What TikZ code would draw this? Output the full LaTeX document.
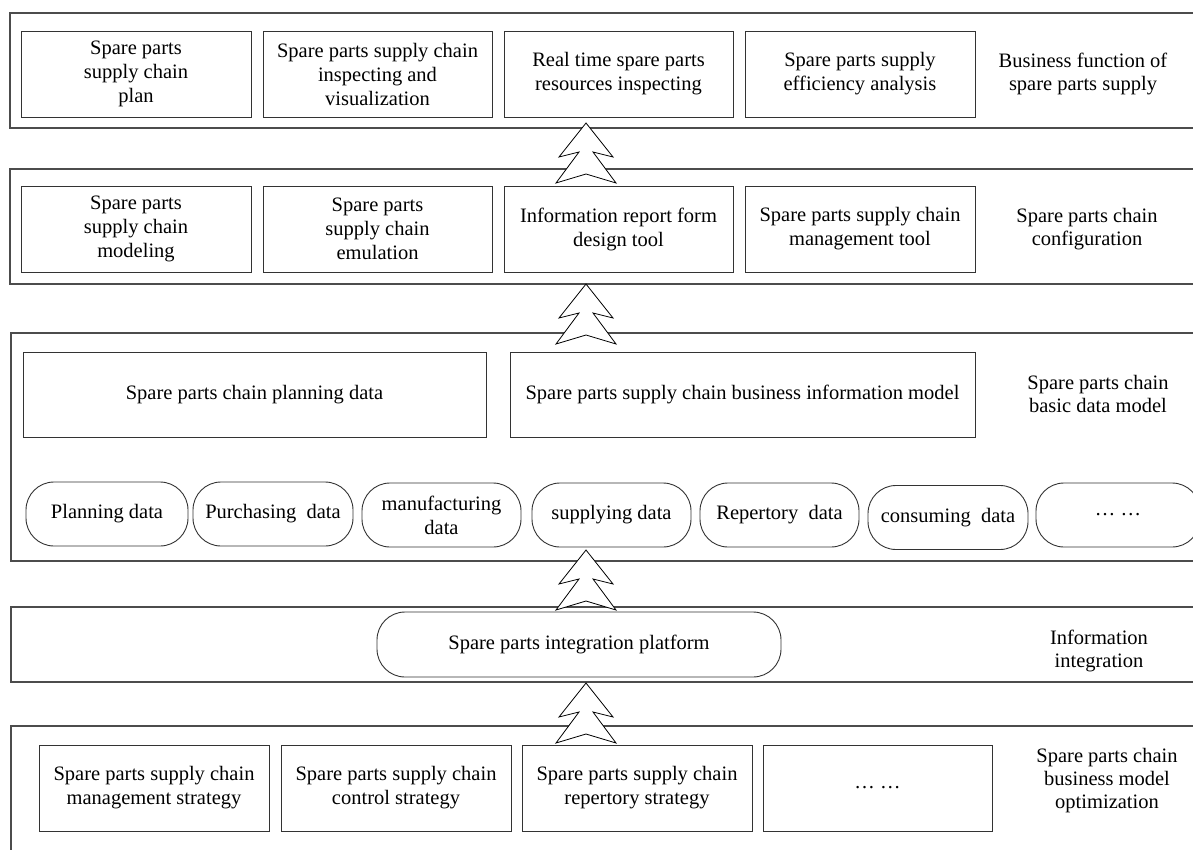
\documentclass[tikz,border=0pt]{standalone}
\usepackage{fontspec}
\setmainfont{Liberation Serif}
\begin{document}
\begin{tikzpicture}[x=1pt,y=-1pt,
  layer/.style={draw=black!70,line width=1.1pt},
  box/.style={draw=black!80,line width=0.9pt,rectangle,inner sep=0pt,align=center,
    font=\fontsize{20.5}{24}\selectfont},
  pill/.style={box,rounded corners=28pt},
  lbl/.style={inner sep=0pt,align=center,font=\fontsize{20.5}{23}\selectfont},
  dblarrow/.pic={\draw[black,line width=0.8pt,fill=white,line join=miter]
    (0,0) -- (27,34) -- (7,29) -- (30,60) -- (0,51) -- (-30,60) -- (-7,29) -- (-27,34) -- cycle;}
]
\useasboundingbox (0,0) rectangle (1193,849);
\clip (0,0) rectangle (1193,849);
\fill[white] (0,0) rectangle (1193,849);

% layers
\draw[layer] (10,13) rectangle (1220,128);
\draw[layer] (10,169) rectangle (1220,284);
\draw[layer] (11,333) rectangle (1220,561);
\draw[layer] (11,607) rectangle (1220,682);
\draw[layer] (11,726) rectangle (1220,880);

% layer 1
\node[box,minimum width=230,minimum height=86] (a1) at (136,74) {Spare parts\\supply chain\\plan};
\node[box,minimum width=229,minimum height=86] (a2) at (377.5,74) {Spare parts supply chain\\inspecting and\\visualization};
\node[box,minimum width=229,minimum height=86] (a3) at (618.5,74) {Real time spare parts\\resources inspecting};
\node[box,minimum width=230,minimum height=86] (a4) at (860,74) {Spare parts supply\\efficiency analysis};
\node[lbl] (l1) at (1083,73.5) {Business function of\\spare parts supply};

% layer 2
\node[box,minimum width=230,minimum height=86] (b1) at (136,229) {Spare parts\\supply chain\\modeling};
\node[box,minimum width=229,minimum height=86] (b2) at (377.5,229) {Spare parts\\supply chain\\emulation};
\node[box,minimum width=229,minimum height=86] (b3) at (618.5,229) {Information report form\\design tool};
\node[box,minimum width=230,minimum height=86] (b4) at (860,229) {Spare parts supply chain\\management tool};
\node[lbl] (l2) at (1087,229) {Spare parts chain\\configuration};

% layer 3
\node[box,minimum width=463,minimum height=85] (c1) at (254.5,394.5) {Spare parts chain planning data};
\node[box,minimum width=465,minimum height=85] (c2) at (742.5,394.5) {Spare parts supply chain business information model};
\node[lbl] (l3) at (1098,394) {Spare parts chain\\basic data model};
\node[pill,minimum width=162,minimum height=64] (d1) at (107,514) {Planning data};
\node[pill,minimum width=160,minimum height=64] (d2) at (273,514) {Purchasing\ \ data};
\node[pill,minimum width=159,minimum height=64] (d3) at (441.5,515) {manufacturing\\data};
\node[pill,minimum width=159,minimum height=64] (d4) at (611.5,515) {supplying data};
\node[pill,minimum width=159,minimum height=64] (d5) at (779.5,515) {Repertory\ \ data};
\node[pill,minimum width=160,minimum height=64] (d6) at (948,517.5) {consuming\ \ data};
\node[pill,minimum width=164,minimum height=64] (d7) at (1118,515) {\dots\ \dots};

% layer 4
\node[pill,minimum width=404,minimum height=65] (e1) at (579,644.5) {Spare parts integration platform};
\node[lbl] (l4) at (1099,651) {Information\\integration};

% layer 5
\node[box,minimum width=230,minimum height=86] (f1) at (154,788) {Spare parts supply chain\\management strategy};
\node[box,minimum width=230,minimum height=86] (f2) at (396,788) {Spare parts supply chain\\control strategy};
\node[box,minimum width=230,minimum height=86] (f3) at (637,788) {Spare parts supply chain\\repertory strategy};
\node[box,minimum width=229,minimum height=86] (f4) at (877.5,788) {\dots\ \dots};
\node[lbl] (l5) at (1107,781) {Spare parts chain\\business model\\optimization};

% arrows
\pic at (586,123) {dblarrow};
\pic at (586,284) {dblarrow};
\pic at (586,550) {dblarrow};
\pic at (586,683) {dblarrow};
\end{tikzpicture}
\end{document}
